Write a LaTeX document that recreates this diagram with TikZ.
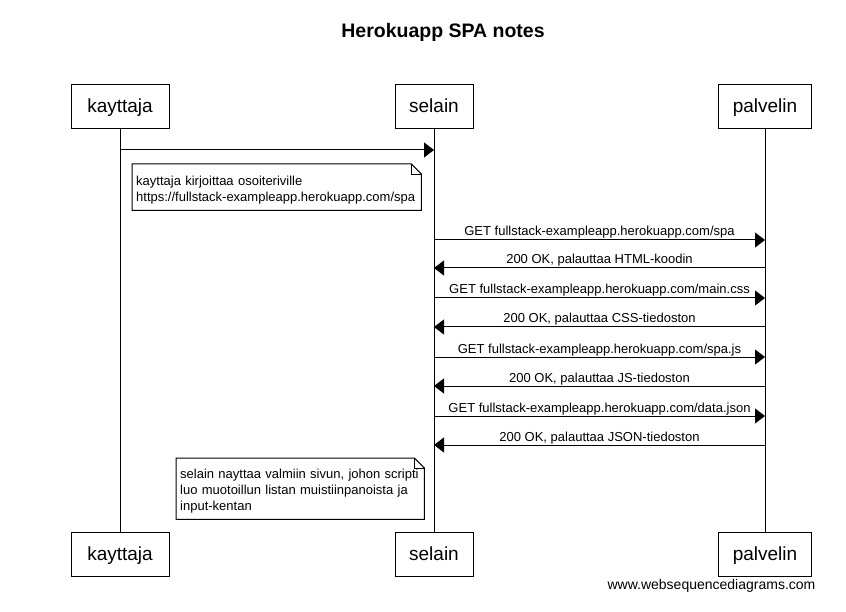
\documentclass[tikz,border=0pt]{standalone}
\usepackage{fontspec}
\setmainfont{Liberation Sans}
\usetikzlibrary{arrows.meta,positioning}

\begin{document}
\begin{tikzpicture}[
    x=1pt, y=-1pt,
    actor/.style={rectangle, draw, line width=1pt, minimum height=44pt, inner xsep=14pt, text height=16pt, text depth=4pt, font=\fontsize{19}{22}\selectfont},
    msg/.style={line width=1pt, -{Triangle[length=10pt,width=15pt]}},
    lbl/.style={font=\fontsize{13}{15}\selectfont, inner sep=0pt, anchor=base, yshift=4pt},
    notebox/.style={draw=none, anchor=north west, align=left, inner xsep=4pt, font=\fontsize{13}{16}\selectfont,
        execute at begin node={\rule{0pt}{14.5pt}}},
    fold/.style={line width=1pt}
]
    \useasboundingbox (0,0) rectangle (846,612);

    \node (title) at (443,32) {\fontsize{19.5}{22}\selectfont\bfseries Herokuapp SPA notes};

    % osallistujat
    \node (kayttaja) [actor, minimum width=98pt] at (120,107) {kayttaja};
    \node (selain) [actor, minimum width=78pt] at (434,107) {selain};
    \node (palvelin) [actor, minimum width=92pt] at (765,107) {palvelin};
    \node (kayttaja2) [actor, minimum width=98pt] at (120,554.5) {kayttaja};
    \node (selain2) [actor, minimum width=78pt] at (434,554.5) {selain};
    \node (palvelin2) [actor, minimum width=92pt] at (765,554.5) {palvelin};

    \draw [line width=1pt] (kayttaja) -- (kayttaja2);
    \draw [line width=1pt] (selain) -- (selain2);
    \draw [line width=1pt] (palvelin) -- (palvelin2);

    % viestien paikat
    \coordinate (k0) at (kayttaja.south |- 0,150);
    \coordinate (s0) at (selain.south |- 0,150);
    \foreach \i/\y in {1/240,2/268,3/298,4/327,5/357,6/386,7/416,8/445} {
        \coordinate (s\i) at (selain.south |- 0,\y);
        \coordinate (p\i) at (palvelin.south |- 0,\y);
    }

    \draw [msg] (k0) -- (s0);

    \node (note1) [notebox, text width=281pt, minimum height=46pt] at (132,164)
        {kayttaja kirjoittaa osoiteriville\\https://fullstack-exampleapp.herokuapp.com/spa};
    \draw [fold] (note1.north west) -- ([xshift=-10pt]note1.north east) -- ([yshift=-10pt]note1.north east)
        -- (note1.south east) -- (note1.south west) -- cycle;
    \draw [line width=0.6pt] ([xshift=-10pt]note1.north east) |- ([yshift=-10pt]note1.north east);

    \draw [msg] (s1) -- node [lbl] {GET fullstack-exampleapp.herokuapp.com/spa} (p1);
    \draw [msg] (p2) -- node [lbl] {200 OK, palauttaa HTML-koodin} (s2);
    \draw [msg] (s3) -- node [lbl] {GET fullstack-exampleapp.herokuapp.com/main.css} (p3);
    \draw [msg] (p4) -- node [lbl] {200 OK, palauttaa CSS-tiedoston} (s4);
    \draw [msg] (s5) -- node [lbl] {GET fullstack-exampleapp.herokuapp.com/spa.js} (p5);
    \draw [msg] (p6) -- node [lbl] {200 OK, palauttaa JS-tiedoston} (s6);
    \draw [msg] (s7) -- node [lbl] {GET fullstack-exampleapp.herokuapp.com/data.json} (p7);
    \draw [msg] (p8) -- node [lbl] {200 OK, palauttaa JSON-tiedoston} (s8);

    \node (note2) [notebox, text width=240pt, minimum height=61pt] at (176,458)
        {selain nayttaa valmiin sivun, johon scripti\\luo muotoillun listan muistiinpanoista ja\\input-kentan};
    \draw [fold] (note2.north west) -- ([xshift=-10pt]note2.north east) -- ([yshift=-10pt]note2.north east)
        -- (note2.south east) -- (note2.south west) -- cycle;
    \draw [line width=0.6pt] ([xshift=-10pt]note2.north east) |- ([yshift=-10pt]note2.north east);

    \node (wsd) at (711.5,586) {\fontsize{14}{16}\selectfont www.websequencediagrams.com};
\end{tikzpicture}
\end{document}
